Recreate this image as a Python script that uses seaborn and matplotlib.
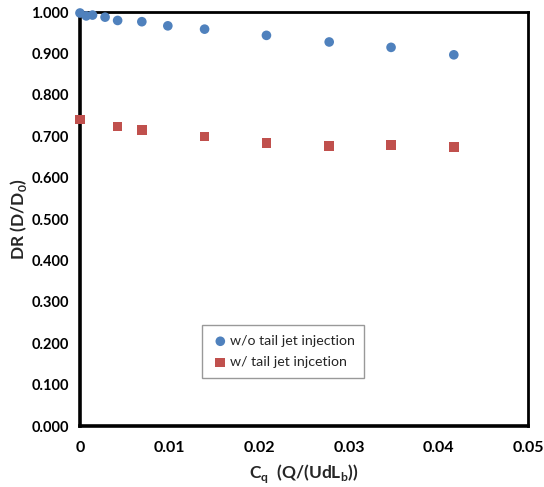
import numpy as np
import pandas as pd
import seaborn as sns
import matplotlib
matplotlib.use('Agg')
import matplotlib.pyplot as plt
from matplotlib.ticker import FixedLocator, FuncFormatter

# data
cq_nojet = [0.0, 0.0007, 0.0014, 0.0028, 0.0042, 0.0069, 0.0098, 0.0139, 0.0208, 0.0278, 0.0347, 0.0417]
dr_nojet = [0.998, 0.991, 0.993, 0.988, 0.980, 0.977, 0.967, 0.959, 0.944, 0.928, 0.915, 0.897]

cq_jet = [0.0, 0.0042, 0.0069, 0.0139, 0.0208, 0.0278, 0.0347, 0.0417]
dr_jet = [0.741, 0.724, 0.716, 0.700, 0.684, 0.676, 0.679, 0.674]

label_nojet = 'w/o tail jet injection'
label_jet = 'w/ tail jet injcetion'

x_ticks = [0, 0.01, 0.02, 0.03, 0.04, 0.05]
y_ticks = [0.0, 0.1, 0.2, 0.3, 0.4, 0.5, 0.6, 0.7, 0.8, 0.9, 1.0]

sns.set_style('white')
plt.rcParams['font.family'] = ['Lato', 'DejaVu Sans']
plt.rcParams['mathtext.fontset'] = 'custom'
plt.rcParams['mathtext.bf'] = 'Lato:bold'
plt.rcParams['mathtext.rm'] = 'Lato'

fig = plt.figure(figsize=(5.44, 4.87), dpi=100)
ax = fig.add_axes([0.147, 0.125, 0.824, 0.850])

df1 = pd.DataFrame({'Cq': cq_nojet, 'DR': dr_nojet})
df2 = pd.DataFrame({'Cq': cq_jet, 'DR': dr_jet})

sns.scatterplot(data=df1, x='Cq', y='DR', ax=ax, color='#4F81BD', marker='o',
                s=48, edgecolor='none', label=label_nojet, clip_on=False, zorder=3)
sns.scatterplot(data=df2, x='Cq', y='DR', ax=ax, color='#C0504D', marker='s',
                s=48, edgecolor='none', label=label_jet, clip_on=False, zorder=3)

ax.set_xlim(0, 0.05)
ax.set_ylim(0, 1.0)
ax.xaxis.set_major_locator(FixedLocator(x_ticks))
ax.yaxis.set_major_locator(FixedLocator(y_ticks))
ax.xaxis.set_major_formatter(FuncFormatter(lambda v, p: '0' if v == 0 else '%g' % v))
ax.yaxis.set_major_formatter(FuncFormatter(lambda v, p: '%.3f' % v))
ax.tick_params(direction='in', length=5, width=1.5, colors='black', labelsize=10.5, pad=8)
ax.tick_params(axis='x', pad=11, labelsize=11.5)
for lab in ax.get_xticklabels() + ax.get_yticklabels():
    lab.set_fontweight('bold')

for side in ['left', 'bottom']:
    ax.spines[side].set_linewidth(2.6)
    ax.spines[side].set_color('black')
for side in ['top', 'right']:
    ax.spines[side].set_linewidth(2.0)
    ax.spines[side].set_color('black')

ax.set_xlabel(r'C$_{\mathbf{q}}$  (Q/(UdL$_{\mathbf{b}}$))', fontsize=12.5, fontweight='bold', labelpad=5)
ax.set_ylabel(r'DR (D/D$_{\mathbf{0}}$)', fontsize=12.5, fontweight='bold', labelpad=2)

leg = ax.legend(loc='lower left', bbox_to_anchor=(0.272, 0.116), frameon=True,
                fancybox=False, edgecolor='#808080', fontsize=10.2, handletextpad=0.05,
                borderpad=0.7, labelspacing=0.65, handlelength=1.2, borderaxespad=0)
leg.get_frame().set_linewidth(1.0)

fig.savefig('out.png', dpi=100)
